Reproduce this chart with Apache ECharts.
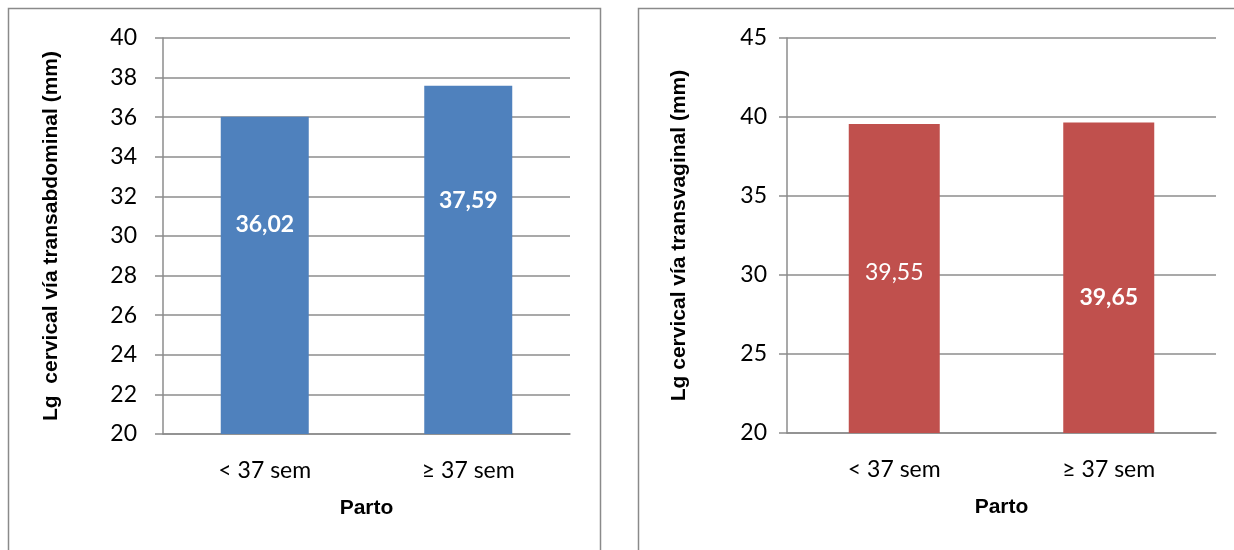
<!DOCTYPE html>
<html><head><meta charset="utf-8">
<script src="https://cdn.jsdelivr.net/npm/echarts@6/dist/echarts.min.js"></script>
<style>html,body{margin:0;padding:0;background:#fff}#c{width:1234px;height:550px}</style>
</head><body><div id="c"></div>
<script>
const categories = ['< 37 sem', '≥ 37 sem'];
const transabdominal = [36.02, 37.59];
const transvaginal = [39.55, 39.65];
const yTitleLeft = 'Lg  cervical vía transabdominal (mm)';
const yTitleRight = 'Lg cervical vía transvaginal (mm)';
const xTitle = 'Parto';

const fmt = v => v.toFixed(2).replace('.', ',');
const grey = '#8c8c8c';
const tickFont = 'Lato, "Open Sans", sans-serif';
const titleFont = '"Liberation Sans", Arial, sans-serif';

const leftDist = [96, 103];
const rightDist = [137, 164];
const rightWeight = ['normal', 'bold'];

function yAxis(gi, min, max, interval, name, gap, margin) {
  return {
    type: 'value', gridIndex: gi, min, max, interval,
    name, nameLocation: 'middle', nameGap: gap,
    nameTextStyle: { fontFamily: titleFont, fontWeight: 'bold', fontSize: 21, color: '#000' },
    axisLine: { show: true, lineStyle: { color: grey, width: 1.5 } },
    axisTick: { show: true, length: 8, inside: false, lineStyle: { color: grey, width: 1.5 } },
    axisLabel: { fontFamily: tickFont, fontSize: 23, color: '#000', margin },
    splitLine: { show: true, lineStyle: { color: grey, width: 1.5 } }
  };
}
function xAxis(gi) {
  return {
    type: 'category', gridIndex: gi, data: categories,
    name: xTitle, nameLocation: 'middle', nameGap: 64,
    nameTextStyle: { fontFamily: titleFont, fontWeight: 'bold', fontSize: 21, color: '#000' },
    axisLine: { show: true, lineStyle: { color: grey, width: 1.5 } },
    axisTick: { show: false },
    axisLabel: { fontFamily: tickFont, fontSize: 23, color: '#000', margin: 25 }
  };
}

const chart = echarts.init(document.getElementById('c'), null, { renderer: 'canvas' });
chart.setOption({
  animation: false,
  graphic: [
    { type: 'rect', shape: { x: 8.5, y: 8.5, width: 592, height: 700 }, style: { fill: 'none', stroke: '#8a8a8a', lineWidth: 1.5 } },
    { type: 'rect', shape: { x: 638.5, y: 8.5, width: 700, height: 700 }, style: { fill: 'none', stroke: '#8a8a8a', lineWidth: 1.5 } }
  ],
  grid: [
    { left: 163, right: 664, top: 38, bottom: 116 },
    { left: 787, right: 18, top: 38, bottom: 117 }
  ],
  xAxis: [xAxis(0), xAxis(1)],
  yAxis: [
    yAxis(0, 20, 40, 2, yTitleLeft, 101, 26),
    yAxis(1, 20, 45, 5, yTitleRight, 97, 20)
  ],
  series: [
    {
      type: 'bar', xAxisIndex: 0, yAxisIndex: 0, barWidth: 88,
      itemStyle: { color: '#4f81bd' },
      data: transabdominal.map((v, i) => ({
        value: v,
        label: { show: true, position: 'insideTop', distance: leftDist[i], formatter: fmt(v),
          color: '#fff', fontFamily: tickFont, fontWeight: 'bold', fontSize: 23 }
      }))
    },
    {
      type: 'bar', xAxisIndex: 1, yAxisIndex: 1, barWidth: 91,
      itemStyle: { color: '#c0504d' },
      data: transvaginal.map((v, i) => ({
        value: v,
        label: { show: true, position: 'insideTop', distance: rightDist[i], formatter: fmt(v),
          color: '#fff', fontFamily: tickFont, fontWeight: rightWeight[i], fontSize: 23 }
      }))
    }
  ]
});
</script>
</body></html>
